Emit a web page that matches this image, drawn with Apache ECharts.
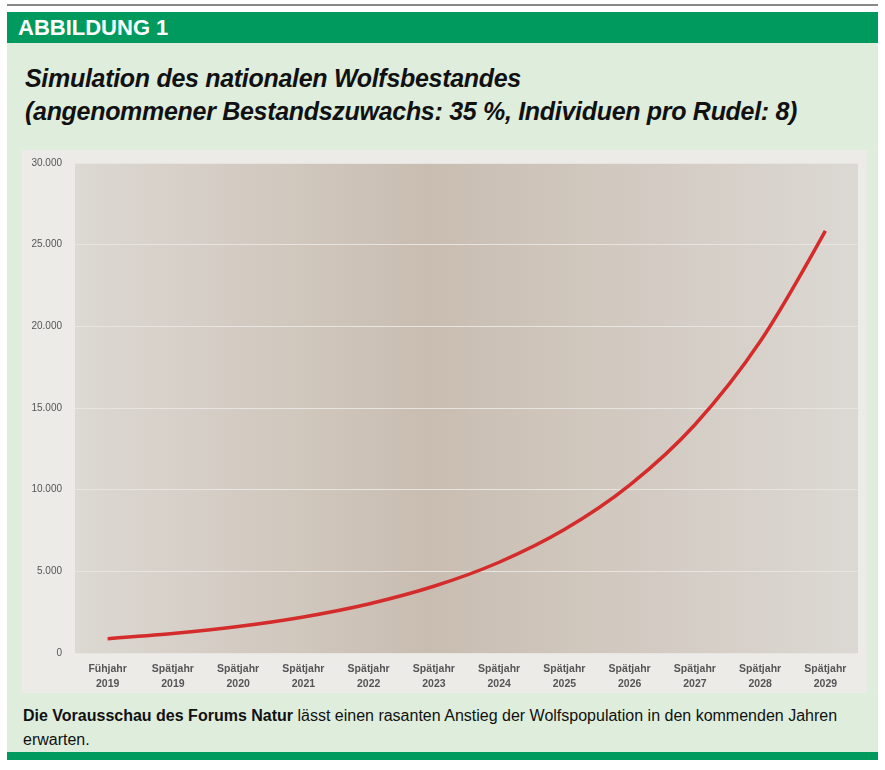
<!DOCTYPE html>
<html><head><meta charset="utf-8">
<script src="https://cdn.jsdelivr.net/npm/echarts@6/dist/echarts.min.js"></script>
<style>
body{margin:0;width:885px;height:770px;background:#fff;font-family:"Liberation Sans",sans-serif;position:relative;overflow:hidden}
#topline{position:absolute;left:7px;top:4px;width:871px;height:2px;background:#888}
#frame{position:absolute;left:7px;top:12px;width:871px;height:748px;background:#deeddc}
#hdr{position:absolute;left:0;top:0;width:871px;height:31px;background:#009a5e;color:#fff;font-weight:bold;font-size:22px;line-height:31px;padding-left:11px;box-sizing:border-box}
#title{position:absolute;left:18px;top:50px;font-size:25px;font-weight:bold;font-style:italic;line-height:33px;color:#111;letter-spacing:-0.3px}
#chart{position:absolute;left:15px;top:138px;width:845px;height:543px;background:#ecebe8}
#cap{position:absolute;left:16px;top:692px;width:850px;font-size:16px;line-height:24px;color:#111}
#bot{position:absolute;left:0;top:740px;width:871px;height:8px;background:#009a5e}
</style></head><body>
<div id="topline"></div>
<div id="frame">
<div id="hdr">ABBILDUNG 1</div>
<div id="title">Simulation des nationalen Wolfsbestandes<br>(angenommener Bestandszuwachs: 35&nbsp;%, Individuen pro Rudel: 8)</div>
<div id="chart"></div>
<div id="cap"><b>Die Vorausschau des Forums Natur</b> lässt einen rasanten Anstieg der Wolfspopulation in den kommenden Jahren erwarten.</div>
<div id="bot"></div>
</div>
<script>
const categories=["Fühjahr\n2019","Spätjahr\n2019","Spätjahr\n2020","Spätjahr\n2021","Spätjahr\n2022","Spätjahr\n2023","Spätjahr\n2024","Spätjahr\n2025","Spätjahr\n2026","Spätjahr\n2027","Spätjahr\n2028","Spätjahr\n2029"];
const values=[878,1194,1624,2209,3004,4085,5556,7556,10276,13976,19066,25848];
const yTicks=[0,5000,10000,15000,20000,25000,30000];
const fmt=v=>String(v).replace(/\B(?=(\d{3})+(?!\d))/g,".");
const c=echarts.init(document.getElementById('chart'));
c.setOption({
 grid:{left:53,right:9,top:13,bottom:40,show:true,borderWidth:0,
  backgroundColor:new echarts.graphic.LinearGradient(0,0,1,0,[{offset:0,color:'#dcd8d2'},{offset:0.45,color:'#c9bdb1'},{offset:1,color:'#dcd8d3'}])},
 xAxis:{type:'category',data:categories,boundaryGap:true,axisLine:{show:false},axisTick:{show:false},
  axisLabel:{color:'#555',fontSize:10.5,fontWeight:'bold',lineHeight:15,margin:9}},
 yAxis:{type:'value',min:yTicks[0],max:yTicks[yTicks.length-1],interval:5000,
  axisLabel:{color:'#555',fontSize:10,formatter:fmt,margin:13},splitLine:{lineStyle:{color:'#e8e4df',width:1}}},
 series:[{type:'line',data:values,smooth:0.3,symbol:'circle',symbolSize:1,showSymbol:true,itemStyle:{opacity:0},lineStyle:{color:'#d42b2b',width:3.5},
  label:{show:true,position:'top',distance:14,color:'#666',fontSize:13,fontWeight:'bold',formatter:p=>fmt(p.value)},
  labelLayout:{hideOverlap:false}}]
});
</script></body></html>
